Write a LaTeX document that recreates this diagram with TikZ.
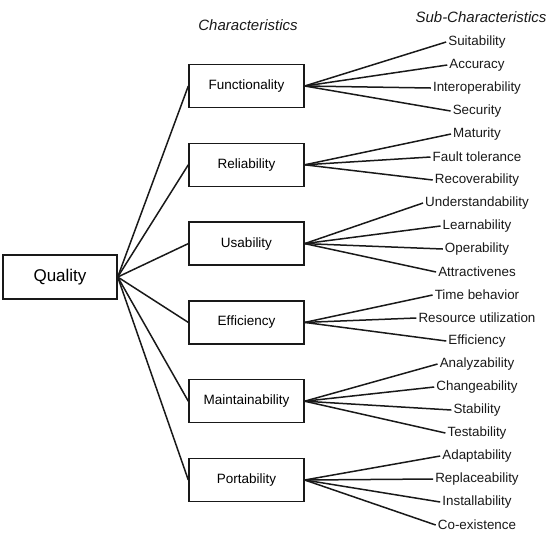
\documentclass[tikz,border=0pt]{standalone}
\usepackage{fontspec}
\setmainfont{Liberation Sans}
\usepackage{tikz}
\usetikzlibrary{positioning}
\definecolor{inkgray}{RGB}{25,25,25}
\tikzset{
  charbox/.style={
    draw=inkgray,
    line width=1.4pt,
    minimum width=115pt,
    minimum height=43pt,
    inner sep=2pt,
    font=\fontsize{13.5}{15}\selectfont
  },
  qualitybox/.style={charbox, minimum width=114pt, minimum height=44pt,
    font=\fontsize{17}{20}\selectfont},
  sublabel/.style={inner sep=2pt, text=inkgray, font=\fontsize{13.4}{15}\selectfont},
  heading/.style={font=\fontsize{15}{18}\selectfont\itshape, text=inkgray},
  link/.style={line width=1.5pt, draw=inkgray}
}

\begin{document}
\begin{tikzpicture}[x=1pt, y=-1pt, node distance=34.4pt]
    \useasboundingbox (0,0) rectangle (559,542);
    % headings
    \node[heading] (charhead) at (248,25) {Characteristics};
    \node[heading] (subhead) at (481,17) {Sub-Characteristics};
    % quality and its characteristics
    \node[qualitybox] (quality) at (60,277) {Quality};
    \node[charbox] (func) at (246.5,86) {Functionality};
    \node[charbox, below=of func] (rel) {Reliability};
    \node[charbox, below=of rel] (usa) {Usability};
    \node[charbox, below=of usa] (eff) {Efficiency};
    \node[charbox, below=of eff] (maint) {Maintainability};
    \node[charbox, below=of maint] (port) {Portability};
    % sub-characteristics
    \foreach \name/\txt [count=\k from 0] in {
        suit/Suitability, acc/Accuracy, inter/Interoperability, sec/Security,
        mat/Maturity, fault/Fault tolerance, recov/Recoverability,
        under/Understandability, learn/Learnability, oper/Operability, attr/Attractivenes,
        time/Time behavior, res/Resource utilization, effsub/Efficiency,
        anal/Analyzability, change/Changeability, stab/Stability, test/Testability,
        adapt/Adaptability, repl/Replaceability, inst/Installability, coex/Co-existence}
      \node[sublabel] (\name) at (477,{42+23*\k}) {\txt};
    % connectors
    \foreach \c in {func,rel,usa,eff,maint,port}
      \draw[link] (quality.east) -- (\c.west);
    \foreach \c/\s in {func/suit, func/acc, func/inter, func/sec,
        rel/mat, rel/fault, rel/recov,
        usa/under, usa/learn, usa/oper, usa/attr,
        eff/time, eff/res, eff/effsub,
        maint/anal, maint/change, maint/stab, maint/test,
        port/adapt, port/repl, port/inst, port/coex}
      \draw[link] (\c.east) -- (\s.west);
  \end{tikzpicture}
\end{document}
